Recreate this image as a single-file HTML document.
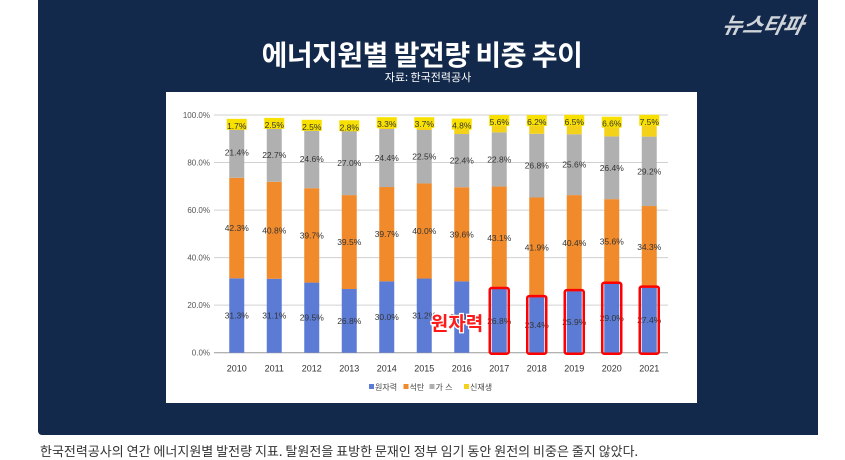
<!DOCTYPE html>
<html><head><meta charset="utf-8"><style>
body{margin:0;width:845px;height:460px;background:#fff;overflow:hidden;font-family:"Liberation Sans","Noto Sans CJK KR",sans-serif;position:relative}
#panel{position:absolute;left:38px;top:0;width:780px;height:435px;background:#13294b;border-radius:0 0 0 4px}
#title{position:absolute;left:-6px;width:780px;top:34px;text-align:center;color:#fff;font-size:28px;font-weight:bold;font-family:"Noto Sans CJK KR",sans-serif;letter-spacing:-0.5px}
#sub{position:absolute;left:0;width:780px;top:69px;text-align:center;color:#fff;font-size:11px;font-family:"Noto Sans CJK KR",sans-serif}
#logo{position:absolute;right:14px;top:8px;color:#cfd3da;font-size:22px;font-style:italic;font-weight:bold;font-family:"Noto Sans CJK KR",sans-serif;transform:skewX(-12deg)}
#box{position:absolute;left:166px;top:92px;width:531px;height:311px;background:#fff}
#cap{position:absolute;left:40px;top:441px;font-size:13px;color:#333;font-family:"Noto Sans CJK KR",sans-serif}
</style></head><body>
<div id="panel">
<div id="title">에너지원별 발전량 비중 추이</div>
<div id="sub">자료: 한국전력공사</div>
<div id="logo">뉴스타파</div>
</div>
<div id="box">
<svg id="chart" width="531" height="311"></svg>
</div>
<div id="cap">한국전력공사의 연간 에너지원별 발전량 지표. 탈원전을 표방한 문재인 정부 임기 동안 원전의 비중은 줄지 않았다.</div>
<script>
const years=["2010","2011","2012","2013","2014","2015","2016","2017","2018","2019","2020","2021"];
const nuclear=[31.3,31.1,29.5,26.8,30.0,31.2,30.0,26.8,23.4,25.9,29.0,27.4];
const coal=[42.3,40.8,39.7,39.5,39.7,40.0,39.6,43.1,41.9,40.4,35.6,34.3];
const gas=[21.4,22.7,24.6,27.0,24.4,22.5,22.4,22.8,26.8,25.6,26.4,29.2];
const renew=[1.7,2.5,2.5,2.8,3.3,3.7,4.8,5.6,6.2,6.5,6.6,7.5];
const yTicks=[0,20,40,60,80,100];
const highlightFrom=7;
const ns="http://www.w3.org/2000/svg";
const svg=document.getElementById('chart');
const X0=52,X1=502,Y0=260.7,Y1=23;
const bw=(X1-X0)/years.length, barW=15;
const y=v=>Y0-(v/100)*(Y0-Y1);
const xc=i=>X0+bw*(i+0.5);
function el(t,a){const e=document.createElementNS(ns,t);for(const k in a)e.setAttribute(k,a[k]);svg.appendChild(e);return e;}
yTicks.forEach(t=>{
  const g=el('line',{x1:X0-4,x2:X1,y1:y(t),y2:y(t),stroke:t===0?'#999':'#d0d0d0','stroke-width':1});
  
  
  const l=el('text',{x:X0-8,y:y(t)+3,'text-anchor':'end','font-size':8,fill:'#555'});
  l.textContent=t.toFixed(1)+'%';
  
  
});
const series=[[nuclear,'#5b7bd5','nuclear'],[coal,'#f08a2a','coal'],[gas,'#b0b0b0','gas'],[renew,'#f5d21a','renewable']];
years.forEach((yr,i)=>{
  let base=0;
  series.forEach(([arr,col,nm],si)=>{
    const v=arr[i];
    const r=el('rect',{x:xc(i)-barW/2,y:y(base+v),width:barW,height:y(base)-y(base+v),fill:col});
    
    
    const mid=si===3?y(base+v)+3:(y(base)+y(base+v))/2+3;
    if(si===3){
      const bg=el('rect',{x:xc(i)-10,y:y(base+v)-4,width:20,height:11,fill:'#f8e000'});
      
      
    }
    const t=el('text',{x:xc(i),y:mid+(si===3?3:0),'text-anchor':'middle','font-size':8.5,fill:'#333'});
    t.textContent=v.toFixed(1)+'%';
    
    
    base+=v;
  });
  if(i>=highlightFrom){
    const h=el('rect',{x:xc(i)-barW/2-2,y:y(nuclear[i])-1,width:barW+4,height:Y0-y(nuclear[i])+2,fill:'none',stroke:'#ff0000','stroke-width':2.5,rx:2});
    
    
  }
  const xl=el('text',{x:xc(i),y:Y0+19,'text-anchor':'middle','font-size':9,fill:'#333'});
  xl.textContent=yr;
  
  
});
const ann=el('text',{x:291,y:238,'text-anchor':'middle','font-size':19,'font-weight':'bold',fill:'#ff1a1a',stroke:'#fff','stroke-width':2.5,'paint-order':'stroke','font-family':'Noto Sans CJK KR,sans-serif'});
ann.textContent='원자력';


const legend=[['원자력','#5b7bd5'],['석탄','#f08a2a'],['가 스','#b0b0b0'],['신재생','#f5d21a']];
let lx=203;
legend.forEach(([n,c])=>{
  const s=el('rect',{x:lx,y:292,width:5,height:5,fill:c});
  
  
  const t=el('text',{x:lx+6,y:298,'font-size':8,fill:'#444'});
  t.textContent=n;
  
  
  lx+=6+n.length*8.5+3;
});
</script>
</body></html>
